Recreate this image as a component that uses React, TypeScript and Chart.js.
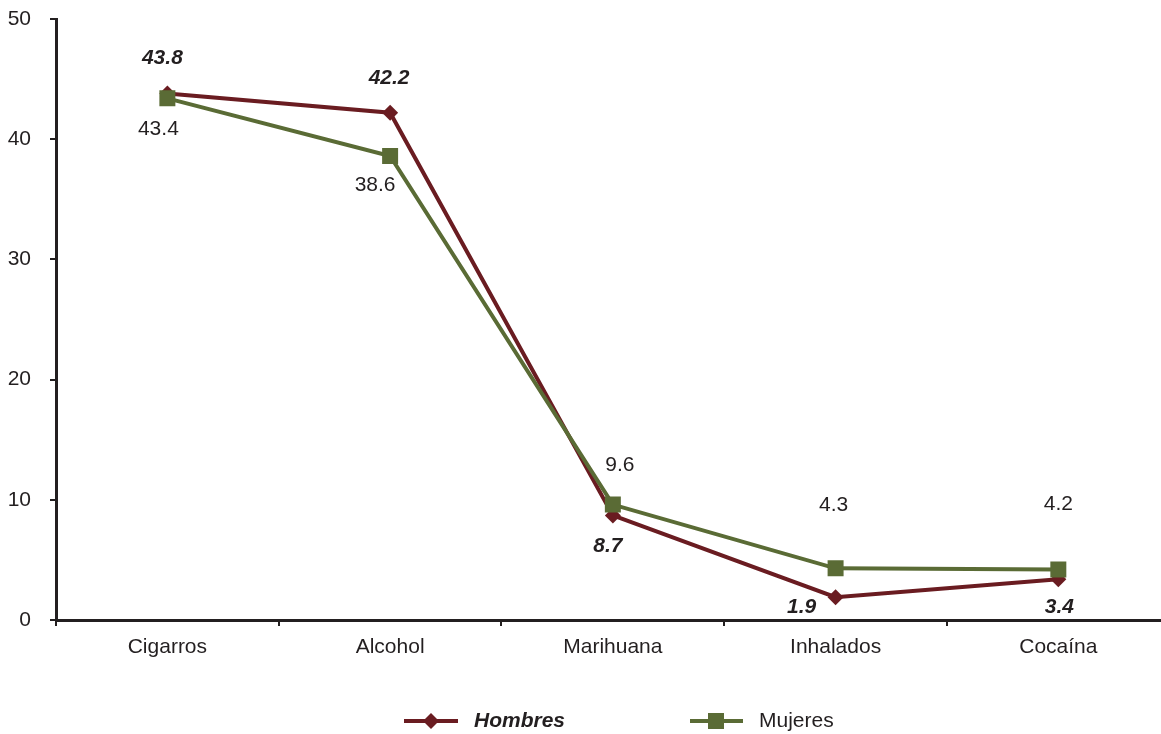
import React, { useEffect, useRef } from "react";
import { Chart, registerables } from "chart.js";

Chart.register(...registerables);

const categories = ["Cigarros", "Alcohol", "Marihuana", "Inhalados", "Cocaína"];
const hombres = [43.8, 42.2, 8.7, 1.9, 3.4];
const mujeres = [43.4, 38.6, 9.6, 4.3, 4.2];
const yTicks = [0, 10, 20, 30, 40, 50];

const HOMBRES_COLOR = "#6a1c21";
const MUJERES_COLOR = "#5a6b35";
const FONT = "'Liberation Sans', Arial, sans-serif";
const FS = 21;

// label offsets (style) relative to each point, in px
const hombresLabelOffsets = [[-5, -35], [-1, -35], [-5, 31], [-34, 10], [1, 28]];
const mujeresLabelOffsets = [[-9, 31], [-15, 29], [7, -39], [-2, -63], [0, -65]];

const labelPlugin = {
  id: "pointLabels",
  afterDatasetsDraw(chart: any) {
    const ctx = chart.ctx;
    const cfgs = [
      { idx: 0, offsets: hombresLabelOffsets, font: `italic bold ${FS}px ${FONT}`, color: "#231f20" },
      { idx: 1, offsets: mujeresLabelOffsets, font: `${FS}px ${FONT}`, color: "#231f20" },
    ];
    ctx.save();
    ctx.textAlign = "center";
    ctx.textBaseline = "middle";
    for (const c of cfgs) {
      const meta = chart.getDatasetMeta(c.idx);
      const data = chart.data.datasets[c.idx].data;
      meta.data.forEach((pt: any, i: number) => {
        const [dx, dy] = c.offsets[i];
        ctx.font = c.font;
        ctx.fillStyle = c.color;
        ctx.fillText(Number(data[i]).toFixed(1), pt.x + dx, pt.y + dy);
      });
    }
    ctx.restore();
  },
};

const legendPlugin = {
  id: "customLegend",
  afterDraw(chart: any) {
    const ctx = chart.ctx;
    const y = 721;
    ctx.save();
    // Hombres
    ctx.strokeStyle = HOMBRES_COLOR;
    ctx.lineWidth = 4;
    ctx.beginPath();
    ctx.moveTo(404, y);
    ctx.lineTo(458, y);
    ctx.stroke();
    ctx.fillStyle = HOMBRES_COLOR;
    ctx.beginPath();
    ctx.moveTo(431, y - 8);
    ctx.lineTo(439, y);
    ctx.lineTo(431, y + 8);
    ctx.lineTo(423, y);
    ctx.closePath();
    ctx.fill();
    ctx.fillStyle = "#231f20";
    ctx.font = `italic bold ${FS}px ${FONT}`;
    ctx.textAlign = "left";
    ctx.textBaseline = "middle";
    ctx.fillText("Hombres", 474, y);
    // Mujeres
    ctx.strokeStyle = MUJERES_COLOR;
    ctx.beginPath();
    ctx.moveTo(690, y);
    ctx.lineTo(743, y);
    ctx.stroke();
    ctx.fillStyle = MUJERES_COLOR;
    ctx.fillRect(716 - 8, y - 8, 16, 16);
    ctx.fillStyle = "#231f20";
    ctx.font = `${FS}px ${FONT}`;
    ctx.fillText("Mujeres", 759, y);
    ctx.restore();
  },
};

export default function App() {
  const ref = useRef<HTMLCanvasElement>(null);
  useEffect(() => {
    if (!ref.current) return;
    const chart = new Chart(ref.current, {
      type: "line",
      data: {
        labels: categories,
        datasets: [
          {
            label: "Hombres",
            data: hombres,
            borderColor: HOMBRES_COLOR,
            backgroundColor: HOMBRES_COLOR,
            borderWidth: 4,
            pointStyle: "rectRot",
            pointRadius: 8,
            pointBorderWidth: 0,
            tension: 0,
            order: 2,
          },
          {
            label: "Mujeres",
            data: mujeres,
            borderColor: MUJERES_COLOR,
            backgroundColor: MUJERES_COLOR,
            borderWidth: 4,
            pointStyle: "rect",
            pointRadius: 11.3,
            pointBorderWidth: 0,
            tension: 0,
            order: 1,
          },
        ],
      },
      options: {
        responsive: false,
        animation: false,
        layout: { padding: { top: 19, right: 0, bottom: 0, left: 0 } },
        plugins: { legend: { display: false }, tooltip: { enabled: false } },
        scales: {
          x: {
            type: "category",
            offset: true,
            grid: { display: true, drawOnChartArea: false, offset: true, tickLength: 6, color: "#231f20", lineWidth: 2 },
            border: { display: true, color: "#231f20", width: 3 },
            ticks: { color: "#231f20", font: { family: FONT, size: FS }, padding: 9, maxRotation: 0 },
            afterFit: (s: any) => { s.height = 114; s.paddingLeft = 0; s.paddingRight = 0; },
          },
          y: {
            min: 0,
            max: 50,
            afterBuildTicks: (s: any) => { s.ticks = yTicks.map((v) => ({ value: v })); },
            grid: { display: true, drawOnChartArea: false, tickLength: 6, color: "#231f20", lineWidth: 2 },
            border: { display: true, color: "#231f20", width: 3 },
            ticks: { color: "#231f20", font: { family: FONT, size: FS }, padding: 19 },
            afterFit: (s: any) => { s.width = 56; s.paddingTop = 0; s.paddingBottom = 0; },
          },
        },
      },
      plugins: [labelPlugin, legendPlugin],
    });
    return () => chart.destroy();
  }, []);
  return (
    <div style={{ position: "fixed", left: 0, top: 0, width: 1161, height: 734, overflow: "hidden", background: "#fff" }}>
      <canvas ref={ref} width={1181} height={734} style={{ width: 1181, height: 734, display: "block" }} />
    </div>
  );
}
